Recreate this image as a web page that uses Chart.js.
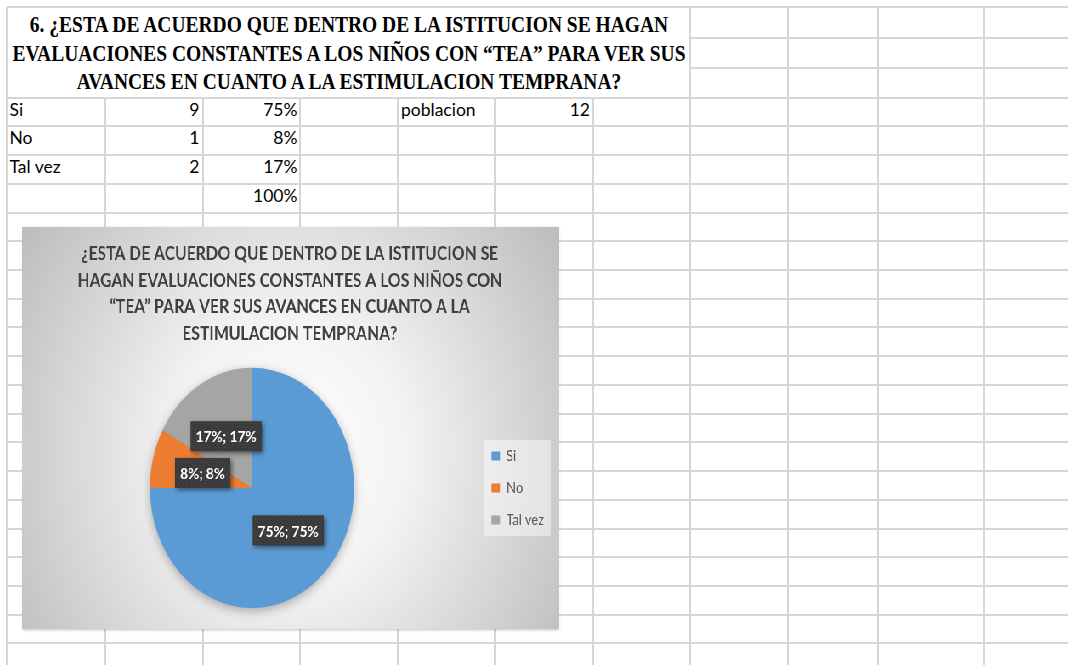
<!DOCTYPE html>
<html>
<head>
<meta charset="utf-8">
<script src="https://cdn.jsdelivr.net/npm/chart.js@4.4.1/dist/chart.umd.min.js"></script>
<style>
  html, body { margin: 0; padding: 0; background: #fff; }
  #sheet { position: relative; width: 1068px; height: 665px; overflow: hidden; }
  .vl { position: absolute; width: 2px; background: #d6d6d6; }
  .hl { position: absolute; height: 2px; background: #d6d6d6; }
  .cell { position: absolute; height: 28.7px; line-height: 28.7px; font: 17.5px Lato, sans-serif; color: #000; white-space: nowrap; }
  .hline { position: absolute; width: 2000px; text-align: center; white-space: nowrap;
           font: bold 23.5px "Liberation Serif", "Times New Roman", serif; line-height: 28.6px; color: #000; }
  #chartBox { position: absolute; left: 22px; top: 227px; width: 632px; height: 402px;
              transform: scaleX(0.85); transform-origin: 0 0;
              box-shadow: 1px 1px 3px rgba(0,0,0,0.25); }
  #chartBox canvas { display: block; }
</style>
</head>
<body>
<div id="sheet">
  <div id="chartBox"><canvas id="chart" width="632" height="402"></canvas></div>
</div>
<script>
"use strict";
// data read from the sheet
const categories = ["Si", "No", "Tal vez"];
const counts = [9, 1, 2];
const percents = [75, 8, 17];
const totalPercent = 100;
const poblacion = 12;
const sliceColors = ["#5B9BD5", "#ED7D31", "#A5A5A5"];

const headingLines = [
  "6. ¿ESTA DE ACUERDO QUE DENTRO DE LA ISTITUCION SE HAGAN",
  "EVALUACIONES CONSTANTES A LOS NIÑOS CON “TEA” PARA VER SUS",
  "AVANCES EN CUANTO A LA ESTIMULACION TEMPRANA?"
];
const chartTitle = [
  "¿ESTA DE ACUERDO QUE DENTRO DE LA ISTITUCION SE",
  "HAGAN EVALUACIONES CONSTANTES A LOS NIÑOS CON",
  "“TEA” PARA VER SUS AVANCES EN CUANTO A LA",
  "ESTIMULACION TEMPRANA?"
];

const sheet = document.querySelector("#sheet");

// ---- spreadsheet grid ----
const colX = [7, 105, 202.5, 300, 397.5, 495, 592.5, 690, 788, 878, 984];
const topRowsY = [7, 38, 68];
const rowStart = 97.7;
const rowH = 28.72;

const addDiv = function (cls, css, text) {
  const d = document.createElement("div");
  d.className = cls;
  Object.assign(d.style, css);
  if (text !== undefined) d.textContent = text;
  sheet.insertBefore(d, sheet.firstChild);
  return d;
};

colX.forEach(x => {
  const top = (x === 7 || x >= 690) ? 7 : rowStart;
  addDiv("vl", { left: (x - 1) + "px", top: top + "px", height: (665 - top) + "px" });
});
topRowsY.forEach((y, i) => {
  const left = i === 0 ? 7 : 690;
  addDiv("hl", { left: left + "px", top: (y - 1) + "px", width: (1068 - left) + "px" });
});
for (let y = rowStart; y < 665; y += rowH) {
  addDiv("hl", { left: "7px", top: (y - 1) + "px", width: "1061px" });
}

// ---- heading (merged cells) ----
const hSpans = headingLines.map((t, i) => {
  const d = addDiv("hline", { left: (348.5 - 1000) + "px", top: (10 + i * 28.6) + "px" });
  const s = document.createElement("span");
  s.textContent = t;
  d.appendChild(s);
  return d;
});
const natural = hSpans[1].firstChild.getBoundingClientRect().width;
const squeeze = 673 / natural;
hSpans.forEach(d => { d.style.transform = `scaleX(${squeeze})`; });

// ---- table cells ----
const cellTop = r => (rowStart + r * rowH + 1) + "px";
categories.forEach((c, r) => {
  addDiv("cell", { left: "9.5px", top: cellTop(r) }, c);
  addDiv("cell", { left: "105px", width: "94.5px", textAlign: "right", top: cellTop(r) }, counts[r]);
  addDiv("cell", { left: "202.5px", width: "95px", textAlign: "right", top: cellTop(r) }, percents[r] + "%");
});
addDiv("cell", { left: "202.5px", width: "95px", textAlign: "right", top: cellTop(3) }, totalPercent + "%");
addDiv("cell", { left: "401px", top: cellTop(0) }, "poblacion");
addDiv("cell", { left: "495px", width: "95px", textAlign: "right", top: cellTop(0) }, poblacion);

// ---- chart ----
const dotPattern = (function () {
  const p = document.createElement("canvas");
  p.width = 6; p.height = 6;
  const g = p.getContext("2d");
  g.fillStyle = "#3b3b3b"; g.fillRect(0, 0, 6, 6);
  g.fillStyle = "#4d4d4d"; g.fillRect(1, 1, 1, 1); g.fillRect(4, 4, 1, 1);
  return p;
})();

const backdrop = {
  id: "backdrop",
  beforeDraw(chart) {
    const { ctx, width, height } = chart;
    const cx = width / 2, cy = height * 0.56;
    const g = ctx.createRadialGradient(cx, cy, 0, cx, cy, Math.hypot(cx, cy));
    g.addColorStop(0, "#ffffff");
    g.addColorStop(0.35, "#f3f3f3");
    g.addColorStop(1, "#bcbcbc");
    ctx.save();
    ctx.fillStyle = g;
    ctx.fillRect(0, 0, width, height);
    const hb = chart.legend.legendHitBoxes;
    if (hb && hb.length) {
      const l = Math.min(...hb.map(h => h.left)) - 9;
      const r = Math.max(...hb.map(h => h.left + h.width)) + 8;
      const t = hb[0].top + hb[0].height / 2 - 16;
      const b = hb[hb.length - 1].top + hb[hb.length - 1].height / 2 + 16;
      ctx.fillStyle = "rgba(255,255,255,0.45)";
      ctx.fillRect(l, t, r - l, b - t);
    }
    ctx.restore();
  },
  beforeDatasetsDraw(chart) {
    const arc = chart.getDatasetMeta(0).data[0];
    if (!arc) return;
    const { ctx } = chart;
    ctx.save();
    ctx.shadowColor = "rgba(0,0,0,0.35)";
    ctx.shadowBlur = 12;
    ctx.shadowOffsetY = 3;
    ctx.fillStyle = sliceColors[0];
    ctx.beginPath();
    ctx.arc(arc.x, arc.y, arc.outerRadius - 1, 0, Math.PI * 2);
    ctx.fill();
    ctx.restore();
  }
};

const sliceLabels = {
  id: "sliceLabels",
  afterDatasetsDraw(chart) {
    const { ctx } = chart;
    const pat = ctx.createPattern(dotPattern, "repeat");
    ctx.save();
    ctx.font = "bold 16px Lato";
    ctx.textAlign = "center";
    ctx.textBaseline = "middle";
    chart.getDatasetMeta(0).data.forEach((arc, i) => {
      const { x, y } = arc.tooltipPosition();
      const txt = `${percents[i]}%; ${percents[i]}%`;
      const w = ctx.measureText(txt).width + 12;
      const h = 30;
      ctx.shadowColor = "rgba(0,0,0,0.5)";
      ctx.shadowBlur = 5;
      ctx.shadowOffsetX = 2;
      ctx.shadowOffsetY = 2;
      ctx.fillStyle = pat;
      ctx.fillRect(x - w / 2, y - h / 2, w, h);
      ctx.shadowColor = "transparent";
      ctx.fillStyle = "#ffffff";
      ctx.fillText(txt, x, y + 1);
    });
    ctx.restore();
  }
};

new Chart(document.getElementById("chart"), {
  type: "pie",
  data: {
    labels: categories,
    datasets: [{
      data: percents,
      backgroundColor: sliceColors,
      borderWidth: 0,
      hoverOffset: 0
    }]
  },
  options: {
    responsive: false,
    animation: false,
    devicePixelRatio: 1,
    layout: { padding: { left: 6, right: 8, top: 0, bottom: 21 } },
    plugins: {
      title: {
        display: true,
        text: chartTitle,
        color: "#404040",
        font: { family: "Lato", size: 18.5, weight: "bold", lineHeight: 1.43 },
        padding: { top: 14, bottom: 21 }
      },
      legend: {
        position: "right",
        fullSize: false,
        labels: {
          boxWidth: 10,
          boxHeight: 9,
          padding: 17,
          color: "#595959",
          font: { family: "Lato", size: 15 }
        }
      },
      tooltip: { enabled: false }
    }
  },
  plugins: [backdrop, sliceLabels]
});
</script>
</body>
</html>
